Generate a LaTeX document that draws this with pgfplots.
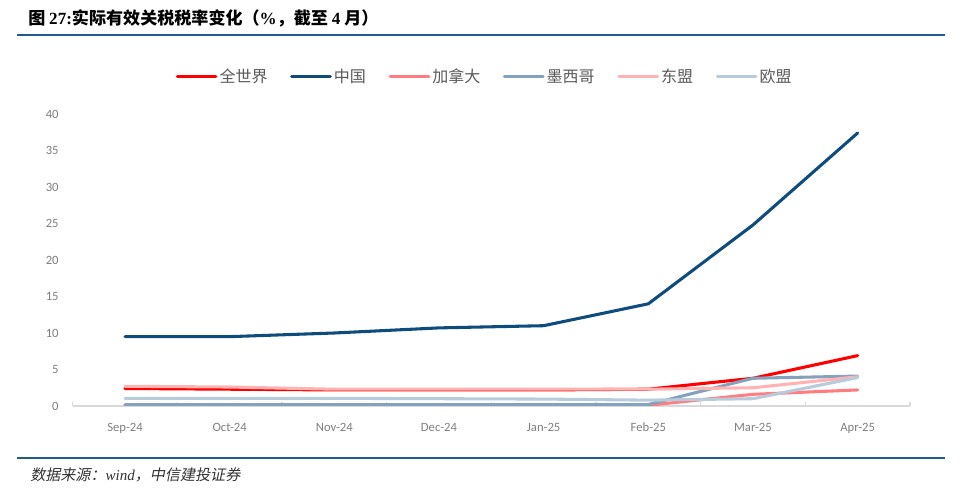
\documentclass[border=0pt]{standalone}
\usepackage{fontspec}
\usepackage{pgfplots}
\pgfplotsset{compat=1.18}
\setmainfont{Carlito}
\newfontfamily\cjk{Noto Sans CJK SC}
\newfontfamily\cjksl{Noto Sans CJK SC}[FakeSlant=0.2]
\newfontfamily\serif{Liberation Serif}
\definecolor{cworld}{HTML}{FF0000}
\definecolor{cchina}{HTML}{0F4C7E}
\definecolor{ccanada}{HTML}{FF7C80}
\definecolor{cmexico}{HTML}{84A2BC}
\definecolor{casean}{HTML}{FFB3B3}
\definecolor{ceu}{HTML}{B8CBDA}
\definecolor{crule}{HTML}{1F5C8C}
\definecolor{ctick}{HTML}{7F7F7F}
\definecolor{clegend}{HTML}{595959}
\begin{document}
\begin{tikzpicture}
\path[use as bounding box] (0,0) rectangle (720pt,372pt);
\node[anchor=west, inner sep=0pt] at (21pt,358.5pt) {\fontsize{12.8}{14}\selectfont\cjk\bfseries 图 {\serif\bfseries 27:}实际有效关税税率变化（{\serif\bfseries \%}，截至 {\serif\bfseries 4} 月）};
\draw[crule, line width=1.6pt] (12.75pt,345.75pt) -- (708.75pt,345.75pt);
\draw[crule, line width=1.6pt] (12.75pt,28.5pt) -- (708.75pt,28.5pt);
\node[anchor=west, inner sep=0pt, text={black!80}] at (22.5pt,15.75pt) {\fontsize{11.3}{13}\selectfont\cjksl 数据来源：{\serif\itshape wind}，中信建投证券};
\begin{axis}[
  at={(54.5pt,67.5pt)}, anchor=south west,
  scale only axis, width=628pt, height=219pt,
  xmin=-0.5, xmax=7.5, ymin=0, ymax=40,
  axis lines*=left,
  y axis line style={draw=none},
  x axis line style={draw={black!15}, line width=0.8pt},
  xtick={0,...,7},
  xticklabels={Sep-24,Oct-24,Nov-24,Dec-24,Jan-25,Feb-25,Mar-25,Apr-25},
  minor xtick={-0.5,0.5,...,7.5},
  major tick length=0pt,
  minor tick length=3pt,
  minor tick style={draw={black!15}, line width=0.8pt},
  tick align=inside,
  ytick={0,5,...,40},
  tick label style={font=\fontsize{9.5}{11}\selectfont, text=ctick},
  /pgf/number format/assume math mode=true,
  yticklabel style={xshift=-7pt},
  xticklabel style={yshift=-8pt, text height=1.6ex, text depth=0.3ex, anchor=north},
  every axis plot/.append style={line width=2.3pt, line cap=round, line join=round, no markers},
  legend columns=6,
  legend style={at={(axis description cs:0.492,1.127)}, anchor=center, draw=none, fill=none,
    font=\fontsize{12}{14}\selectfont\cjk, text=clegend,
    nodes={inner sep=1.5pt},
    /tikz/every even column/.append style={column sep=15.5pt}},
  legend image code/.code={\draw[#1] (0pt,0pt) -- (29pt,0pt);},
]
\addplot[cworld] coordinates {(0,2.4) (1,2.3) (2,2.2) (3,2.2) (4,2.2) (5,2.3) (6,3.8) (7,6.9)};
\addlegendentry{全世界}
\addplot[cchina] coordinates {(0,9.5) (1,9.5) (2,10.0) (3,10.7) (4,11.0) (5,14.0) (6,24.8) (7,37.4)};
\addlegendentry{中国}
\addplot[ccanada] coordinates {(0,0.1) (1,0.1) (2,0.1) (3,0.1) (4,0.1) (5,0.1) (6,1.6) (7,2.2)};
\addlegendentry{加拿大}
\addplot[cmexico] coordinates {(0,0.2) (1,0.2) (2,0.2) (3,0.2) (4,0.2) (5,0.2) (6,3.8) (7,4.1)};
\addlegendentry{墨西哥}
\addplot[casean] coordinates {(0,2.7) (1,2.6) (2,2.3) (3,2.3) (4,2.3) (5,2.3) (6,2.5) (7,4.0)};
\addlegendentry{东盟}
\addplot[ceu] coordinates {(0,1.05) (1,1.05) (2,1.05) (3,1.0) (4,0.95) (5,0.8) (6,1.0) (7,3.9)};
\addlegendentry{欧盟}
\end{axis}
\end{tikzpicture}
\end{document}
